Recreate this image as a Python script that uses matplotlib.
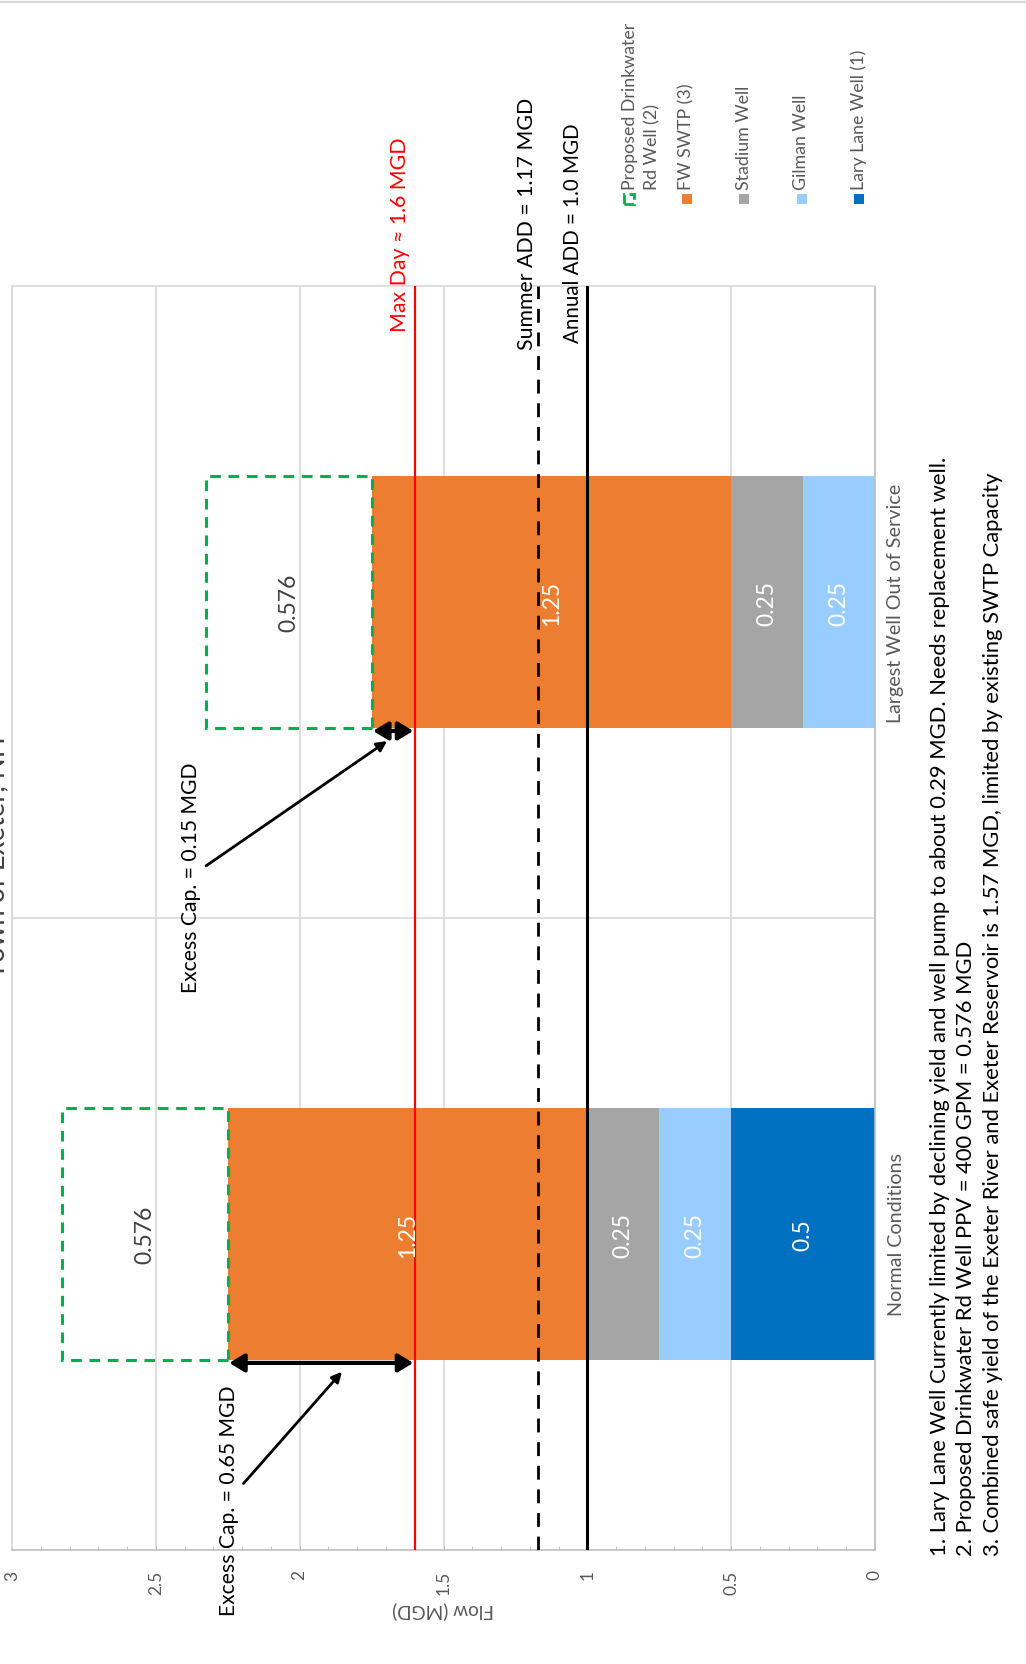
import matplotlib
matplotlib.use('Agg')
import matplotlib.pyplot as plt
from matplotlib.patches import Rectangle
from matplotlib.lines import Line2D
from matplotlib.ticker import MultipleLocator

plt.rcParams['font.family'] = ['Lato', 'DejaVu Sans']

# data
categories = ['Normal Conditions', 'Largest Well Out of Service']
series = ['Lary Lane Well (1)', 'Gilman Well', 'Stadium Well', 'FW SWTP (3)',
          'Proposed Drinkwater\nRd Well (2)']
lary_lane = [0.5, 0.0]
gilman = [0.25, 0.25]
stadium = [0.25, 0.25]
fw_swtp = [1.25, 1.25]
drinkwater = [0.576, 0.576]
colors = ['#0070C0', '#99CCFF', '#A5A5A5', '#ED7D31', '#00B050']

max_day = 1.6
summer_add = 1.17
annual_add = 1.0
value_ticks = [0, 0.5, 1, 1.5, 2, 2.5, 3]

notes = ['1. Lary Lane Well Currently limited by declining yield and well pump to about 0.29 MGD. Needs replacement well.',
         '2. Proposed Drinkwater Rd Well PPV = 400 GPM = 0.576 MGD',
         '3. Combined safe yield of the Exeter River and Exeter Reservoir is 1.57 MGD, limited by existing SWTP Capacity']

W, H = 1026, 1665
fig = plt.figure(figsize=(W / 100, H / 100), dpi=100)
ax = fig.add_axes([12 / W, 114 / H, 863 / W, 1264 / H])

ypos = [0, 1]
bar_h = 0.4
left = [0.0, 0.0]
for vals, col in zip([lary_lane, gilman, stadium, fw_swtp], colors[:4]):
    ax.barh(ypos, vals, left=left, height=bar_h, color=col, zorder=2)
    for i in range(len(vals)):
        if vals[i] > 0:
            ax.text(left[i] + vals[i] / 2, ypos[i], f'{vals[i]:g}', rotation=90,
                    ha='center', va='center', color='white', fontsize=16.5, zorder=4)
    left = [l + v for l, v in zip(left, vals)]

ax.barh(ypos, drinkwater, left=left, height=bar_h, fill=False, edgecolor=colors[4],
        linestyle=(0, (3.5, 2.5)), linewidth=2.2, zorder=2)
for i in range(len(drinkwater)):
    ax.text(left[i] + drinkwater[i] / 2, ypos[i], f'{drinkwater[i]:g}', rotation=90,
            ha='center', va='center', color='#404040', fontsize=16.5, zorder=4)

# reference lines
ax.axvline(max_day, color='#FF0000', lw=1.6, zorder=3)
ax.axvline(summer_add, color='black', lw=2, linestyle=(0, (5, 3.5)), zorder=3)
ax.axvline(annual_add, color='black', lw=2.2, zorder=3)

line_labels = [(max_day, f'Max Day \u2248 {max_day:g} MGD', '#FF0000', (-15, -45), 15.3),
               (summer_add, f'Summer ADD = {summer_add:g} MGD', 'black', (-11, -63), 15.35),
               (annual_add, f'Annual ADD = {annual_add:.1f} MGD', 'black', (-14, -56), 14.8)]
for xv, txt, c, off, fs in line_labels:
    ax.annotate(txt, xy=(xv, 1), xycoords=('data', 'axes fraction'), xytext=off,
                textcoords='offset pixels', rotation=90, ha='center', va='bottom',
                color=c, fontsize=fs, annotation_clip=False)

# excess capacity arrows
text_pos = [(2.246, -0.421), (2.378, 0.566)]
head_pos = [(1.853, -0.218), (1.696, 0.780)]
for i in ypos:
    ya = ypos[i] - bar_h / 2 - 0.004
    ax.annotate('', xy=(max_day, ya), xytext=(left[i], ya),
                arrowprops=dict(arrowstyle='<|-|>,head_length=0.5,head_width=0.3',
                                color='black', lw=3, mutation_scale=18, shrinkA=1, shrinkB=1),
                zorder=5)
    ax.annotate(f'Excess Cap. = {left[i] - max_day:.2f} MGD', xy=head_pos[i], xytext=text_pos[i],
                rotation=90, ha='center', va='center', fontsize=15.2, color='black',
                arrowprops=dict(arrowstyle='-|>', color='black', lw=2, mutation_scale=15,
                                shrinkA=2, shrinkB=0),
                annotation_clip=False, zorder=5)

# axes styling
ax.set_xlim(3, 0)
ax.set_ylim(-0.5, 1.5)
ax.set_xticks(value_ticks)
ax.set_xticklabels([f'{t:g}' for t in value_ticks])
ax.xaxis.set_minor_locator(MultipleLocator(0.1))
ax.tick_params(axis='x', which='both', direction='in', length=3, color='#BFBFBF')
ax.tick_params(axis='x', which='major', labelrotation=90, labelsize=12.5, labelcolor='#595959', pad=14)
ax.grid(axis='x', which='major', color='#D9D9D9', lw=1.2)
ax.set_xlabel('Flow (MGD)', rotation=180, color='#595959', fontsize=13.7, labelpad=5)

ax.set_yticks(ypos)
ax.set_yticklabels(categories)
ax.yaxis.tick_right()
ax.set_yticks([0.5], minor=True)
ax.tick_params(axis='y', which='both', length=0)
ax.tick_params(axis='y', which='major', labelrotation=90, labelsize=14.2, labelcolor='#595959', pad=9)
plt.setp(ax.get_yticklabels(), va='center')
ax.grid(axis='y', which='minor', color='#D9D9D9', lw=1.2)
ax.set_axisbelow(True)
for s, c in [('top', '#D9D9D9'), ('left', '#D9D9D9'), ('bottom', '#BFBFBF'), ('right', '#BFBFBF')]:
    ax.spines[s].set_color(c)
    ax.spines[s].set_linewidth(1.2)

# legend drawn by hand (rotated)
for k, (name, col) in enumerate(zip(series[::-1], colors[::-1])):
    xc = 629 + 57.5 * k
    if k == 0:
        fig.add_artist(Rectangle(((xc - 5) / W, 1 - 205 / H), 10 / W, 10 / H, fill=False,
                                 edgecolor=col, lw=2, linestyle='--', transform=fig.transFigure))
        tx = xc + 12
    else:
        fig.add_artist(Rectangle(((xc - 5) / W, 1 - 205 / H), 10 / W, 10 / H, facecolor=col,
                                 edgecolor='none', transform=fig.transFigure))
        tx = xc
    fig.text(tx / W, 1 - 190 / H, name, rotation=90, rotation_mode='anchor', ha='left',
             va='center', fontsize=12.8, color='#595959', linespacing=1.45)

# notes, title, border
for j, note in enumerate(notes):
    fig.text((940 + 26.5 * j) / W, 1 - 1556 / H, note, rotation=90, rotation_mode='anchor',
             ha='left', va='center', fontsize=15.8, color='black')

fig.text(4.5 / W, 1 - 857 / H, 'Town of Exeter, NH', rotation=90, rotation_mode='anchor',
         ha='center', va='baseline', fontsize=19.8, color='#404040')
fig.add_artist(Line2D([0, 1], [1 - 3 / H] * 2, transform=fig.transFigure, color='#D9D9D9', lw=1.5))

fig.savefig('out.png', dpi=100)
